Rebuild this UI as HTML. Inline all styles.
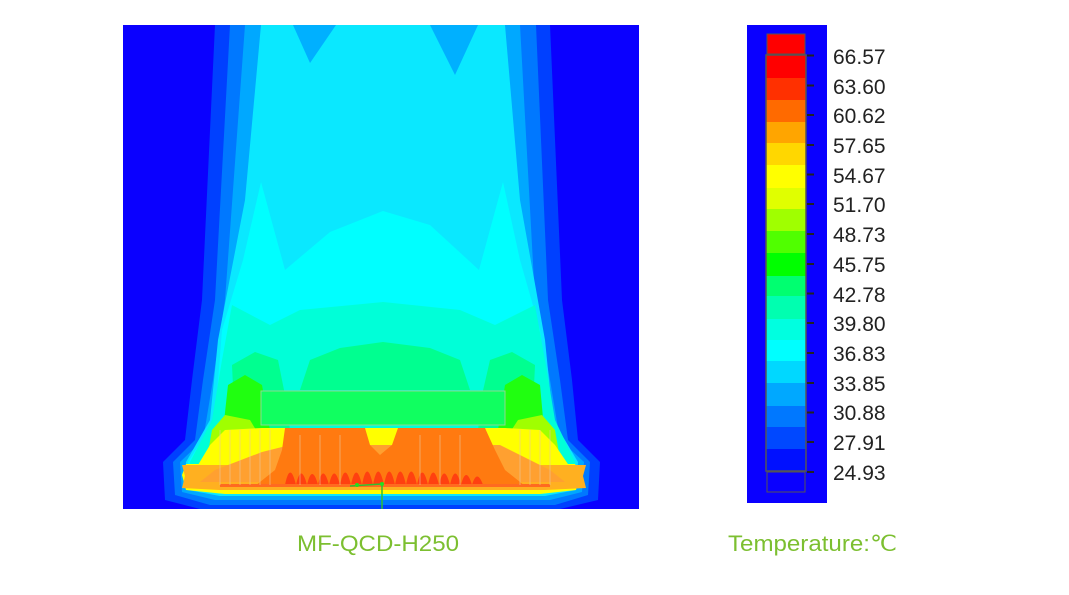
<!DOCTYPE html>
<html><head><meta charset="utf-8"><style>
html,body{margin:0;padding:0;background:#fff;width:1069px;height:595px;overflow:hidden}
svg{display:block}
</style></head><body>
<svg width="1069" height="595" viewBox="0 0 1069 595" xmlns="http://www.w3.org/2000/svg" font-family="Liberation Sans, Arial, sans-serif">
<defs><clipPath id="pc"><rect x="123" y="25" width="516" height="484"/></clipPath></defs>
<g clip-path="url(#pc)">
<rect x="123" y="25" width="516" height="484" fill="#0a00ff"/>
<path d="M215 25 L550 25 L562 300 L572 380 L578 440 L600 462 L598 500 L560 509 L200 509 L165 500 L163 462 L185 440 L192 380 L202 300 Z" fill="#0040ff"/>
<path d="M230 25 L536 25 L548 300 L560 380 L568 440 L590 462 L588 495 L555 505 L210 505 L175 495 L173 462 L195 440 L203 380 L215 300 Z" fill="#0078ff"/>
<path d="M245 25 L520 25 L535 300 L550 380 L560 440 L584 462 L582 492 L550 500 L215 500 L182 492 L180 462 L203 440 L213 380 L225 300 Z" fill="#00a8ff"/>
<path d="M261 25 L505 25 L520 200 L545 340 L553 420 L578 462 L576 490 L545 496 L220 496 L188 490 L186 462 L210 420 L218 340 L245 200 Z" fill="#0ae8ff"/>
<path d="M293 25 L336 25 L310 63 Z" fill="#00b0ff"/>
<path d="M430 25 L478 25 L455 75 Z" fill="#00b0ff"/>
<path d="M261 182 L285 270 L330 232 L383 211 L430 225 L479 270 L503 182 L520 260 L540 330 L550 420 L575 462 L573 490 L545 494 L220 494 L190 490 L188 462 L215 420 L222 330 L243 260 Z" fill="#00ffff"/>
<path d="M232 305 L270 325 L300 310 L383 302 L460 310 L495 325 L535 305 L545 360 L555 420 L575 462 L572 488 L545 492 L220 492 L192 488 L190 462 L212 420 L222 360 Z" fill="#00ffd8"/>
<path d="M300 390 L310 360 L340 348 L383 342 L430 348 L460 360 L470 390 Z" fill="#00ff90"/>
<path d="M235 430 L232 365 L255 352 L278 360 L285 395 L290 430 Z" fill="#00ff90"/>
<path d="M532 430 L535 365 L512 352 L490 360 L482 395 L478 430 Z" fill="#00ff90"/>
<path d="M222 440 L228 385 L245 375 L262 385 L270 430 Z" fill="#20ff10"/>
<path d="M545 440 L540 385 L522 375 L505 385 L498 430 Z" fill="#20ff10"/>
<path d="M205 470 L212 430 L225 415 L250 420 L262 440 L505 440 L518 420 L542 415 L555 430 L562 470 Z" fill="#a0ff00"/>
<path d="M195 470 L210 445 L225 430 L262 428 L505 428 L540 430 L555 445 L572 470 Z" fill="#ffff00"/>
<path d="M186 464 L575 464 L580 475 L576 490 L540 494 L225 494 L186 490 L182 475 Z" fill="#ffff00"/>
<path d="M182 465 L586 465 L583 476 L586 488 L545 490 L220 490 L182 488 L185 476 Z" fill="#ffb020"/>
<path d="M215 470 L262 452 L290 445 L500 445 L520 455 L550 470 L565 482 L200 482 Z" fill="#ffa030"/>
<path d="M285 428 L365 428 L370 445 L380 455 L392 445 L398 428 L485 428 L495 450 L505 470 L525 486 L255 486 L275 470 L282 450 Z" fill="#ff7a10"/>
<g fill="#ff4010">
<path d="M285 485 Q290 460 296 485 Q301 462 307 485 Q312 463 318 485 Q323 462 329 485 Q334 462 340 485 Q345 460 351 485 Q356 460 362 485 Q367 458 373 485 Q378 458 384 485 Q389 458 395 485 Q400 458 406 485 Q411 458 417 485 Q422 460 428 485 Q433 460 439 485 Q444 462 450 485 Q455 462 461 485 Q466 465 472 485 Q477 468 483 485 Z"/>
</g>
<rect x="220" y="484" width="330" height="3" fill="#ff6a20"/>
<g stroke="#e8c8a0" stroke-width="1" opacity="0.6">
<path d="M220 430V485M230 430V485M240 430V485M250 430V485M260 430V485M270 430V485M520 430V485M530 430V485M540 430V485M550 430V485M300 435V485M320 435V485M340 435V485M420 435V485M440 435V485M460 435V485"/>
</g>
<rect x="261" y="391" width="244" height="34" fill="#10ff60" stroke="#8cd890" stroke-width="1"/>
<path d="M350 486 L382 484 L382 509" stroke="#30c030" stroke-width="1.5" fill="none"/>
<circle cx="357" cy="485" r="2" fill="#20e020"/><circle cx="382" cy="484" r="2" fill="#20e020"/>
</g>
<rect x="747" y="25" width="80" height="478" fill="#0a00ff"/>
<rect x="767" y="34" width="38" height="20" fill="#ff0000" stroke="#555" stroke-width="1"/>
<g>
<rect x="766" y="55" width="40" height="24" fill="#ff0000"/>
<rect x="766" y="78" width="40" height="22" fill="#ff3000"/>
<rect x="766" y="100" width="40" height="23" fill="#ff6a00"/>
<rect x="766" y="122" width="40" height="22" fill="#ffa500"/>
<rect x="766" y="143" width="40" height="23" fill="#ffd700"/>
<rect x="766" y="165" width="40" height="24" fill="#ffff00"/>
<rect x="766" y="188" width="40" height="22" fill="#e0ff00"/>
<rect x="766" y="209" width="40" height="23" fill="#a0ff00"/>
<rect x="766" y="231" width="40" height="23" fill="#50ff00"/>
<rect x="766" y="253" width="40" height="24" fill="#00ff00"/>
<rect x="766" y="276" width="40" height="21" fill="#00ff70"/>
<rect x="766" y="296" width="40" height="24" fill="#00ffb0"/>
<rect x="766" y="319" width="40" height="22" fill="#00ffe0"/>
<rect x="766" y="340" width="40" height="22" fill="#00ffff"/>
<rect x="766" y="361" width="40" height="23" fill="#00d8ff"/>
<rect x="766" y="383" width="40" height="24" fill="#00a8ff"/>
<rect x="766" y="406" width="40" height="22" fill="#0078ff"/>
<rect x="766" y="427" width="40" height="23" fill="#0048ff"/>
<rect x="766" y="449" width="40" height="22" fill="#0010ff"/>
</g>
<rect x="766" y="55" width="40" height="416" fill="none" stroke="#555" stroke-width="1.5"/>
<rect x="767" y="472" width="38" height="20" fill="#0a00ff" stroke="#555" stroke-width="1"/>
<g stroke="#222" stroke-width="2">
<path d="M807 55.5h7M807 85.5h7M807 115h7M807 145h7M807 174.5h7M807 204h7M807 234h7M807 264h7M807 293.5h7M807 323h7M807 353h7M807 383h7M807 412.5h7M807 442h7M807 472h7"/>
</g>
<g font-size="21" fill="#222">
<text x="833" y="64">66.57</text>
<text x="833" y="94">63.60</text>
<text x="833" y="123">60.62</text>
<text x="833" y="153">57.65</text>
<text x="833" y="183">54.67</text>
<text x="833" y="212">51.70</text>
<text x="833" y="242">48.73</text>
<text x="833" y="272">45.75</text>
<text x="833" y="302">42.78</text>
<text x="833" y="331">39.80</text>
<text x="833" y="361">36.83</text>
<text x="833" y="391">33.85</text>
<text x="833" y="420">30.88</text>
<text x="833" y="450">27.91</text>
<text x="833" y="480">24.93</text>
</g>
<g font-size="22" fill="#7cbf30">
<text x="297" y="551" textLength="162" lengthAdjust="spacingAndGlyphs">MF-QCD-H250</text>
<text x="728" y="551" textLength="169" lengthAdjust="spacingAndGlyphs">Temperature:℃</text>
</g>
</svg>
</body></html>
